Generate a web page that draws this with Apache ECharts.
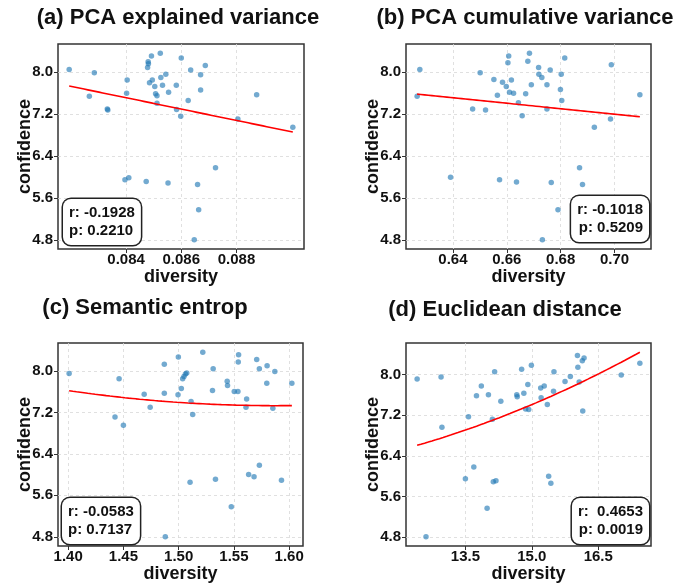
<!DOCTYPE html>
<html>
<head>
<meta charset="utf-8">
<script src="https://cdn.jsdelivr.net/npm/echarts@6/dist/echarts.min.js"></script>
<style>
  html, body { margin: 0; padding: 0; background: #fff; }
  #chart { width: 688px; height: 584px; }
</style>
</head>
<body>
<div id="chart"></div>
<script>
// panel titles and annotation values
const panelTitles = ['(a) PCA explained variance', '(b) PCA cumulative variance', '(c) Semantic entrop', '(d) Euclidean distance']
const rValues = ['-0.1928', '-0.1018', '-0.0583', ' 0.4653']
const pValues = ['0.2210', '0.5209', '0.7137', '0.0019']

// (a) PCA explained variance
const aDiv = [0.08194, 0.08285, 0.08267, 0.08332, 0.08334, 0.08404, 0.08402, 0.08396, 0.08410, 0.08473, 0.08478, 0.08480, 0.08481, 0.08492, 0.08485, 0.08495, 0.08504, 0.08507, 0.08512, 0.08512, 0.08524, 0.08526, 0.08532, 0.08544, 0.08554, 0.08552, 0.08582, 0.08583, 0.08600, 0.08598, 0.08625, 0.08634, 0.08647, 0.08659, 0.08663, 0.08670, 0.08670, 0.08687, 0.08724, 0.08805, 0.08873, 0.09004]
const aConf = [8.05, 7.99, 7.54, 7.30, 7.28, 7.85, 7.60, 5.95, 5.99, 5.92, 8.09, 8.20, 8.16, 8.31, 7.80, 7.85, 7.73, 7.59, 7.55, 7.41, 8.36, 7.90, 7.75, 7.96, 7.62, 5.89, 7.75, 7.29, 8.27, 7.16, 7.46, 8.04, 4.81, 5.86, 5.38, 7.95, 7.66, 8.13, 6.18, 7.11, 7.57, 6.95]

// (b) PCA cumulative variance
const bDiv = [0.6267, 0.6277, 0.6391, 0.6473, 0.6501, 0.6521, 0.6552, 0.6565, 0.6573, 0.6584, 0.6598, 0.6604, 0.6607, 0.6610, 0.6617, 0.6625, 0.6636, 0.6643, 0.6657, 0.6670, 0.6678, 0.6684, 0.6691, 0.6718, 0.6719, 0.6730, 0.6732, 0.6749, 0.6749, 0.6761, 0.6765, 0.6790, 0.6799, 0.6802, 0.6804, 0.6815, 0.6870, 0.6881, 0.6925, 0.6985, 0.6988, 0.7094]
const bConf = [7.54, 8.05, 6.00, 7.30, 7.99, 7.28, 7.86, 7.56, 5.95, 7.81, 7.73, 8.18, 8.31, 7.62, 7.85, 7.60, 5.91, 7.42, 7.17, 7.59, 8.21, 8.36, 7.76, 8.09, 7.96, 7.90, 4.81, 7.76, 7.30, 8.04, 5.90, 5.38, 7.67, 7.96, 7.46, 8.27, 6.18, 5.86, 6.95, 7.11, 8.14, 7.57]

// (c) Semantic entropy
const cDiv = [1.4009, 1.4424, 1.4461, 1.4500, 1.4688, 1.4742, 1.4870, 1.4870, 1.4879, 1.4994, 1.4997, 1.5024, 1.5036, 1.5048, 1.5061, 1.5073, 1.5103, 1.5112, 1.5127, 1.5218, 1.5306, 1.5312, 1.5333, 1.5439, 1.5442, 1.5476, 1.5503, 1.5536, 1.5539, 1.5542, 1.5615, 1.5609, 1.5633, 1.5682, 1.5706, 1.5730, 1.5730, 1.5800, 1.5797, 1.5852, 1.5870, 1.5930, 1.6024]
const cConf = [7.95, 7.11, 7.85, 6.95, 7.55, 7.30, 8.13, 7.57, 4.80, 7.54, 8.27, 7.66, 7.85, 7.89, 7.94, 7.96, 5.85, 7.41, 7.16, 8.36, 7.62, 8.04, 5.91, 7.80, 7.72, 5.38, 7.60, 7.60, 8.17, 8.31, 7.46, 7.30, 6.00, 5.96, 8.22, 6.18, 8.04, 8.10, 7.76, 7.28, 7.99, 5.89, 7.76]

// (d) Euclidean distance
const dDiv = [12.41, 12.61, 12.95, 12.97, 13.50, 13.57, 13.69, 13.75, 13.86, 13.99, 14.02, 14.11, 14.13, 14.16, 14.19, 14.30, 14.66, 14.67, 14.77, 14.82, 14.86, 14.91, 14.93, 14.99, 15.20, 15.21, 15.28, 15.35, 15.38, 15.43, 15.49, 15.50, 15.75, 15.87, 16.03, 16.04, 16.07, 16.14, 16.18, 16.15, 17.02, 17.44]
const dConf = [7.91, 4.81, 7.95, 6.96, 5.95, 7.17, 6.18, 7.58, 7.77, 5.37, 7.60, 7.12, 5.89, 8.05, 5.91, 7.47, 7.60, 7.56, 8.10, 7.63, 7.32, 7.80, 7.31, 8.18, 7.73, 7.54, 7.77, 7.41, 6.00, 5.86, 7.67, 8.05, 7.86, 7.96, 8.37, 8.14, 7.85, 8.27, 8.32, 7.28, 7.99, 8.22]

// tick labels
const aTicks = [0.084, 0.086, 0.088]
const bTicks = [0.64, 0.66, 0.68, 0.70]
const cTicks = [1.40, 1.45, 1.50, 1.55, 1.60]
const dTicks = [13.5, 15.0, 16.5]
const confTicks = [4.8, 5.6, 6.4, 7.2, 8.0]

const FONT = "'Liberation Sans', Arial, sans-serif"

const panels = [
  { x: aDiv, y: aConf, ticks: aTicks, dec: 3, deg: 1 },
  { x: bDiv, y: bConf, ticks: bTicks, dec: 2, deg: 1 },
  { x: cDiv, y: cConf, ticks: cTicks, dec: 2, deg: 2 },
  { x: dDiv, y: dConf, ticks: dTicks, dec: 1, deg: 2 }
]

const grids = [
  { left: 58, top: 44, width: 246, height: 205 },
  { left: 406, top: 44, width: 245, height: 205 },
  { left: 58, top: 343, width: 245, height: 206 },
  { left: 406, top: 343, width: 245, height: 206 }
]

// least squares polynomial fit (x normalised for stability)
function polyfit(xs, ys, deg) {
  const n = xs.length
  const mx = xs.reduce((s, v) => s + v, 0) / n
  const sx = Math.sqrt(xs.reduce((s, v) => s + (v - mx) * (v - mx), 0) / n)
  const m = deg + 1
  const A = Array.from({ length: m }, () => new Array(m + 1).fill(0))
  for (let k = 0; k < n; k++) {
    const t = (xs[k] - mx) / sx
    for (let i = 0; i < m; i++) {
      for (let j = 0; j < m; j++) A[i][j] += Math.pow(t, i + j)
      A[i][m] += ys[k] * Math.pow(t, i)
    }
  }
  for (let i = 0; i < m; i++) {
    let p = i
    for (let r = i + 1; r < m; r++) if (Math.abs(A[r][i]) > Math.abs(A[p][i])) p = r
    const tmp = A[i]; A[i] = A[p]; A[p] = tmp
    for (let r = 0; r < m; r++) {
      if (r === i) continue
      const f = A[r][i] / A[i][i]
      for (let c = i; c <= m; c++) A[r][c] -= f * A[i][c]
    }
  }
  const coef = A.map((row, i) => row[m] / row[i])
  return (x) => {
    const t = (x - mx) / sx
    return coef.reduce((s, c, i) => s + c * Math.pow(t, i), 0)
  }
}

const chart = echarts.init(document.getElementById('chart'))

const xAxes = []
const yAxes = []
const series = []
const graphics = []

panels.forEach((p, i) => {
  const f = polyfit(p.x, p.y, p.deg)
  const x0 = Math.min(...p.x)
  const x1 = Math.max(...p.x)
  const fitData = []
  for (let k = 0; k <= 60; k++) {
    const xv = x0 + (x1 - x0) * k / 60
    fitData.push([xv, f(xv)])
  }
  const allY = p.y.concat(fitData.map((d) => d[1]))
  const y0 = Math.min(...allY)
  const y1 = Math.max(...allY)
  const xm = (x1 - x0) * 0.05
  const ym = (y1 - y0) * 0.05

  xAxes.push({
    gridIndex: i,
    type: 'value',
    min: x0 - xm,
    max: x1 + xm,
    name: 'diversity',
    nameLocation: 'middle',
    nameGap: 19,
    nameMoveOverlap: false,
    nameTextStyle: { fontFamily: FONT, fontWeight: 'bold', fontSize: 18, color: '#111' },
    axisLine: { show: false },
    axisTick: { show: true, length: 4, customValues: p.ticks, lineStyle: { color: '#333' } },
    axisLabel: {
      customValues: p.ticks,
      margin: 3,
      fontFamily: FONT,
      fontWeight: 'bold',
      fontSize: 15,
      color: '#111',
      formatter: (v) => v.toFixed(p.dec)
    },
    splitLine: { show: true, lineStyle: { color: '#d8d8d8', type: [3, 3], width: 0.8 } }
  })

  yAxes.push({
    gridIndex: i,
    type: 'value',
    min: y0 - ym,
    max: y1 + ym,
    name: 'confidence',
    nameLocation: 'middle',
    nameGap: 24,
    nameMoveOverlap: false,
    nameTextStyle: { fontFamily: FONT, fontWeight: 'bold', fontSize: 18, color: '#111' },
    axisLine: { show: false },
    axisTick: { show: true, length: 4, customValues: confTicks, lineStyle: { color: '#333' } },
    axisLabel: {
      customValues: confTicks,
      margin: 5,
      fontFamily: FONT,
      fontWeight: 'bold',
      fontSize: 15,
      color: '#111',
      formatter: (v) => v.toFixed(1)
    },
    splitLine: { show: true, lineStyle: { color: '#d8d8d8', type: [3, 3], width: 0.8 } }
  })

  series.push({
    type: 'scatter',
    xAxisIndex: i,
    yAxisIndex: i,
    symbolSize: 5.5,
    itemStyle: { color: 'rgba(31,119,180,0.78)' },
    data: p.x.map((v, k) => [v, p.y[k]]),
    z: 3
  })
  series.push({
    type: 'line',
    xAxisIndex: i,
    yAxisIndex: i,
    showSymbol: false,
    smooth: false,
    lineStyle: { color: '#ff0000', width: 1.6 },
    data: fitData,
    z: 4
  })
})

const titlePos = [[178, 18], [525, 18], [145, 308], [505, 310]]
titlePos.forEach((pos, i) => {
  graphics.push({
    type: 'text',
    x: pos[0],
    y: pos[1],
    style: {
      text: panelTitles[i],
      align: 'center',
      verticalAlign: 'middle',
      font: 'bold 22px ' + FONT,
      fill: '#111'
    }
  })
})

// r / p annotation boxes
const boxPos = [[63, 199, 'left'], [649, 196, 'right'], [62, 498, 'left'], [649, 498, 'right']]
boxPos.forEach((b, i) => {
  graphics.push({
    type: 'text',
    x: b[0],
    y: b[1],
    z: 10,
    style: {
      text: 'r: ' + rValues[i] + '\np: ' + pValues[i],
      align: b[2],
      verticalAlign: 'top',
      font: 'bold 15px ' + FONT,
      lineHeight: 18,
      fill: '#111',
      backgroundColor: '#fff',
      borderColor: '#222',
      borderWidth: 1.5,
      borderRadius: 8,
      padding: [5, 6, 5, 6]
    }
  })
})

chart.setOption({
  animation: false,
  grid: grids.map((g) => Object.assign({ show: true, borderColor: '#333', borderWidth: 1.5, backgroundColor: 'transparent' }, g)),
  xAxis: xAxes,
  yAxis: yAxes,
  series: series,
  graphic: graphics
})
</script>
</body>
</html>
